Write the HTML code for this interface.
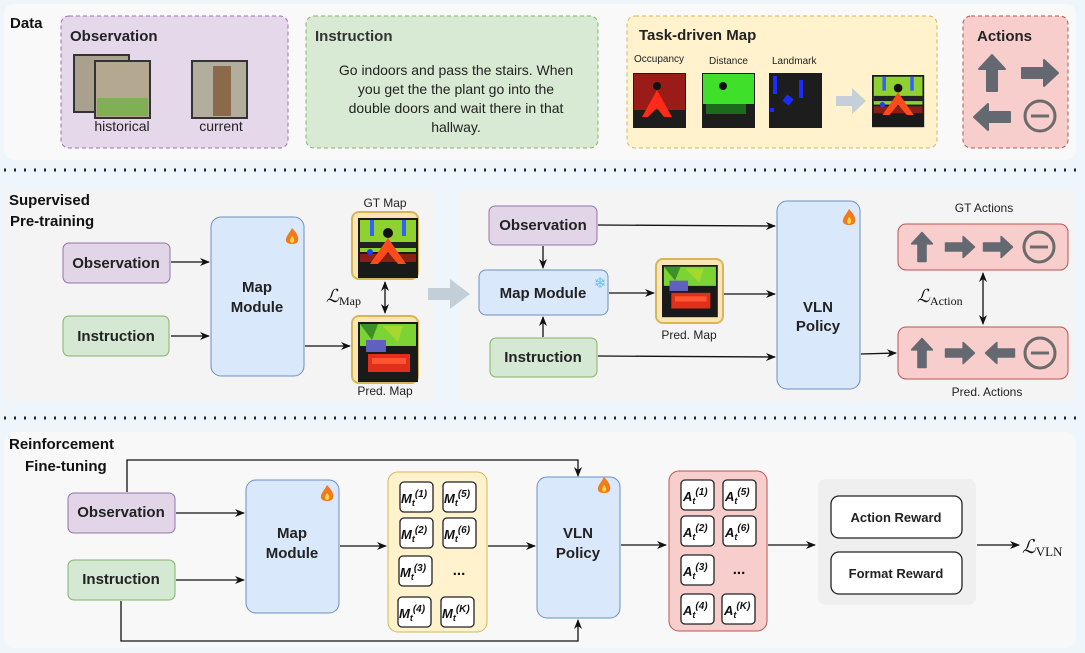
<!DOCTYPE html>
<html><head><meta charset="utf-8"><style>
html,body{margin:0;padding:0;background:#eef6fb}
svg{display:block;font-family:"Liberation Sans",Arial,sans-serif}
</style></head><body>
<svg width="1085" height="653" viewBox="0 0 1085 653" xmlns="http://www.w3.org/2000/svg">
<defs>
<marker id="ar" markerWidth="10" markerHeight="10" refX="9" refY="5" orient="auto" markerUnits="userSpaceOnUse"><path d="M0,1 L10,5 L0,9 L3,5 Z" fill="#111"/></marker>
<marker id="as" markerWidth="10" markerHeight="10" refX="1" refY="5" orient="auto" markerUnits="userSpaceOnUse"><path d="M10,1 L0,5 L10,9 L7,5 Z" fill="#111"/></marker>
<path id="up" d="M0,-18 L13,-4 L5,-4 L5,18 L-5,18 L-5,-4 L-13,-4 Z" fill="#646871" stroke="#646871" stroke-width="2" stroke-linejoin="round"/>
<g id="stop"><circle r="15" fill="none" stroke="#6b6b6b" stroke-width="3"/><line x1="-9" y1="0" x2="9" y2="0" stroke="#6b6b6b" stroke-width="3"/></g>
<g id="fire"><path d="M0,-9 C5,-4 7,0 6,4 C5,8 -5,8 -6,4 C-7,0 -3,-3 0,-9 Z" fill="#f07b1c"/><path d="M0,-1 C3,2 3,5 0,6 C-3,5 -2,2 0,-1Z" fill="#ffd84a"/></g>
<g id="predmap"><rect width="60" height="60" fill="#1a1a1a"/><rect x="2" y="2" width="56" height="22" fill="#7bd433"/><path d="M2,2 L20,2 L14,18 Z" fill="#3d8f2a"/><path d="M25,4 L45,4 L40,20Z" fill="#a6d82e"/><rect x="8" y="18" width="20" height="12" fill="#6060c0"/><rect x="10" y="32" width="42" height="18" fill="#e0301c"/><rect x="14" y="36" width="34" height="6" fill="#ff5530"/></g>
<g id="gtmap"><rect width="60" height="60" fill="#1a1a1a"/><rect x="2" y="2" width="56" height="32" fill="#8fd230"/><circle cx="30" cy="15" r="5" fill="#111"/><rect x="12" y="2" width="4" height="16" fill="#3060ff"/><rect x="44" y="2" width="4" height="16" fill="#3060ff"/><rect x="2" y="24" width="56" height="6" fill="#222"/><rect x="2" y="36" width="56" height="8" fill="#8a1f16"/><path d="M30,20 L48,46 L40,46 L30,34 L20,46 L12,46 Z" fill="#ff4a1c"/><circle cx="12" cy="34" r="3" fill="#2040ff"/></g>
</defs>

<!-- panels -->
<rect x="4" y="4" width="1072" height="156" rx="10" fill="#f9f9f9"/>
<line x1="4" y1="170" x2="1076" y2="170" stroke="#222" stroke-width="3" stroke-dasharray="2,8"/>
<rect x="4" y="190" width="432" height="212" rx="10" fill="#f4f4f4"/>
<rect x="459" y="190" width="617" height="212" rx="10" fill="#f4f4f4"/>
<line x1="4" y1="418" x2="1076" y2="418" stroke="#222" stroke-width="3" stroke-dasharray="2,8"/>
<rect x="4" y="432" width="1072" height="216" rx="10" fill="#f8f8f8"/>

<!-- DATA -->
<text x="10" y="28" font-size="15" font-weight="bold" fill="#111">Data</text>
<rect x="61" y="16" width="227" height="132" rx="8" fill="#e4d8ea" stroke="#9a72ac" stroke-dasharray="4,3"/>
<text x="70" y="41" font-size="15" font-weight="bold" fill="#222">Observation</text>
<rect x="74" y="55" width="55" height="57" fill="#a9a08e" stroke="#333" stroke-width="2"/>
<rect x="95" y="61" width="55" height="57" fill="#b5a890" stroke="#333" stroke-width="2"/>
<rect x="97" y="98" width="51" height="18" fill="#7fb055"/>
<rect x="192" y="61" width="55" height="57" fill="#b3ad9e" stroke="#333" stroke-width="2"/>
<rect x="213" y="66" width="18" height="50" fill="#8a6a4a"/>
<text x="122" y="131" font-size="14" text-anchor="middle" fill="#222">historical</text>
<text x="221" y="131" font-size="14" text-anchor="middle" fill="#222">current</text>

<rect x="306" y="16" width="292" height="132" rx="8" fill="#d9ead4" stroke="#82b366" stroke-dasharray="4,3"/>
<text x="315" y="41" font-size="15" font-weight="bold" fill="#333">Instruction</text>
<g font-size="14" text-anchor="middle" fill="#222">
<text x="456" y="75">Go indoors and pass the stairs. When</text>
<text x="456" y="94">you get the the plant go into the</text>
<text x="456" y="113">double doors and wait there in that</text>
<text x="456" y="132">hallway.</text></g>

<rect x="627" y="16" width="310" height="132" rx="8" fill="#fff2cc" stroke="#d6b656" stroke-dasharray="4,3"/>
<text x="639" y="40" font-size="15" font-weight="bold" fill="#222">Task-driven Map</text>
<g font-size="10" fill="#222"><text x="634" y="62">Occupancy</text><text x="709" y="64">Distance</text><text x="772" y="64">Landmark</text></g>
<rect x="633" y="73" width="53" height="55" fill="#1d1d1d"/><rect x="634" y="74" width="51" height="36" fill="#9a1c18"/><circle cx="657" cy="86" r="4" fill="#111"/><path d="M657,90 L672,117 L664,117 L657,108 L648,117 L642,117Z" fill="#ff2a1a"/>
<rect x="702" y="73" width="53" height="55" fill="#1d1d1d"/><rect x="703" y="74" width="51" height="30" fill="#3ee02a"/><rect x="706" y="104" width="40" height="10" fill="#1c6a1c"/><circle cx="723" cy="86" r="4" fill="#111"/>
<rect x="769" y="73" width="53" height="55" fill="#1d1d1d"/><rect x="773" y="76" width="4" height="18" fill="#1a2cff"/><rect x="799" y="80" width="4" height="18" fill="#1a2cff"/><rect x="784" y="96" width="8" height="8" fill="#1a2cff" transform="rotate(40 788 100)"/><rect x="770" y="108" width="4" height="4" fill="#1a2cff"/>
<path d="M836,96 L852,96 L852,88 L866,101 L852,114 L852,106 L836,106Z" fill="#c5cfd8"/>
<use href="#gtmap" transform="translate(872,75) scale(0.87)"/>

<rect x="963" y="16" width="105" height="132" rx="8" fill="#f8cecc" stroke="#b85450" stroke-dasharray="4,3"/>
<text x="977" y="41" font-size="15" font-weight="bold" fill="#222">Actions</text>
<use href="#up" transform="translate(992,73)"/>
<use href="#up" transform="translate(1040,73) rotate(90)"/>
<use href="#up" transform="translate(992,117) rotate(-90)"/>
<use href="#stop" transform="translate(1040,116)"/>

<!-- SUPERVISED -->
<g font-size="15" font-weight="bold" fill="#111"><text x="9" y="205">Supervised</text><text x="10" y="226">Pre-training</text></g>
<rect x="63" y="243" width="107" height="40" rx="6" fill="#e1d5e7" stroke="#9673a6"/>
<text x="116" y="268" font-size="15" font-weight="bold" text-anchor="middle" fill="#222">Observation</text>
<rect x="63" y="316" width="106" height="40" rx="6" fill="#d5e8d4" stroke="#82b366"/>
<text x="116" y="341" font-size="15" font-weight="bold" text-anchor="middle" fill="#222">Instruction</text>
<rect x="211" y="217" width="93" height="159" rx="10" fill="#dae8fc" stroke="#6c8ebf"/>
<text x="257" y="292" font-size="15" font-weight="bold" text-anchor="middle" fill="#222">Map</text>
<text x="257" y="312" font-size="15" font-weight="bold" text-anchor="middle" fill="#222">Module</text>
<use href="#fire" transform="translate(292,237)"/>
<line x1="171" y1="262" x2="209" y2="262" stroke="#111" stroke-width="1.3" marker-end="url(#ar)"/>
<line x1="171" y1="336" x2="209" y2="336" stroke="#111" stroke-width="1.3" marker-end="url(#ar)"/>
<line x1="305" y1="346" x2="350" y2="346" stroke="#111" stroke-width="1.3" marker-end="url(#ar)"/>
<text x="385" y="207" font-size="12" text-anchor="middle" fill="#222">GT Map</text>
<rect x="352" y="212" width="66" height="67" rx="7" fill="#fbe5b4" stroke="#d6b656" stroke-width="2"/>
<use href="#gtmap" transform="translate(358,218)"/>
<rect x="352" y="316" width="66" height="67" rx="7" fill="#fbe5b4" stroke="#d6b656" stroke-width="2"/>
<use href="#predmap" transform="translate(358,322)"/>
<text x="385" y="395" font-size="12" text-anchor="middle" fill="#222">Pred. Map</text>
<line x1="385" y1="282" x2="385" y2="313" stroke="#111" stroke-width="1.3" marker-end="url(#ar)" marker-start="url(#as)"/>
<text x="326" y="302" font-size="18" font-family="Liberation Serif" font-style="italic" fill="#111">ℒ<tspan font-size="12" font-style="normal" dy="3">Map</tspan></text>
<path d="M428,288 L450,288 L450,279 L470,294 L450,309 L450,300 L428,300Z" fill="#c2ced8"/>

<rect x="489" y="206" width="108" height="39" rx="6" fill="#e1d5e7" stroke="#9673a6"/>
<text x="543" y="230" font-size="15" font-weight="bold" text-anchor="middle" fill="#222">Observation</text>
<rect x="479" y="270" width="129" height="45" rx="7" fill="#dae8fc" stroke="#6c8ebf"/>
<text x="543" y="298" font-size="15" font-weight="bold" text-anchor="middle" fill="#222">Map Module</text>
<text x="600" y="288" font-size="15" text-anchor="middle" fill="#6cc0ee">❄</text>
<rect x="490" y="338" width="107" height="39" rx="6" fill="#d5e8d4" stroke="#82b366"/>
<text x="543" y="362" font-size="15" font-weight="bold" text-anchor="middle" fill="#222">Instruction</text>
<line x1="543" y1="246" x2="543" y2="268" stroke="#111" stroke-width="1.3" marker-end="url(#ar)"/>
<line x1="543" y1="337" x2="543" y2="317" stroke="#111" stroke-width="1.3" marker-end="url(#ar)"/>
<rect x="656" y="259" width="67" height="64" rx="7" fill="#fbe5b4" stroke="#d6b656" stroke-width="2"/>
<use href="#predmap" transform="translate(662,265) scale(0.93,0.87)"/>
<text x="689" y="339" font-size="12" text-anchor="middle" fill="#222">Pred. Map</text>
<line x1="609" y1="293" x2="654" y2="293" stroke="#111" stroke-width="1.3" marker-end="url(#ar)"/>
<line x1="598" y1="225" x2="775" y2="226" stroke="#111" stroke-width="1.3" marker-end="url(#ar)"/>
<line x1="724" y1="294" x2="775" y2="294" stroke="#111" stroke-width="1.3" marker-end="url(#ar)"/>
<line x1="598" y1="356" x2="775" y2="357" stroke="#111" stroke-width="1.3" marker-end="url(#ar)"/>
<rect x="777" y="201" width="83" height="188" rx="10" fill="#dae8fc" stroke="#6c8ebf"/>
<text x="818" y="312" font-size="15" font-weight="bold" text-anchor="middle" fill="#222">VLN</text>
<text x="818" y="331" font-size="15" font-weight="bold" text-anchor="middle" fill="#222">Policy</text>
<use href="#fire" transform="translate(849,218)"/>
<line x1="861" y1="354" x2="896" y2="353" stroke="#111" stroke-width="1.3" marker-end="url(#ar)"/>
<text x="984" y="212" font-size="12" text-anchor="middle" fill="#222">GT Actions</text>
<rect x="898" y="224" width="170" height="46" rx="8" fill="#f8cecc" stroke="#b85450"/>
<g transform="translate(922,247) scale(0.8)"><use href="#up"/></g>
<g transform="translate(960,247) scale(0.8) rotate(90)"><use href="#up"/></g>
<g transform="translate(998,247) scale(0.8) rotate(90)"><use href="#up"/></g>
<g transform="translate(1039,247)"><use href="#stop"/></g>
<rect x="898" y="327" width="170" height="52" rx="8" fill="#f8cecc" stroke="#b85450"/>
<g transform="translate(922,353) scale(0.8)"><use href="#up"/></g>
<g transform="translate(960,353) scale(0.8) rotate(90)"><use href="#up"/></g>
<g transform="translate(1000,353) scale(0.8) rotate(-90)"><use href="#up"/></g>
<g transform="translate(1040,353)"><use href="#stop"/></g>
<text x="987" y="396" font-size="12" text-anchor="middle" fill="#222">Pred. Actions</text>
<line x1="983" y1="273" x2="983" y2="324" stroke="#111" stroke-width="1.3" marker-end="url(#ar)" marker-start="url(#as)"/>
<text x="917" y="302" font-size="18" font-family="Liberation Serif" font-style="italic" fill="#111">ℒ<tspan font-size="12" font-style="normal" dy="3">Action</tspan></text>

<!-- RL -->
<g font-size="15" font-weight="bold" fill="#111"><text x="9" y="449">Reinforcement</text><text x="25" y="471">Fine-tuning</text></g>
<rect x="68" y="493" width="107" height="40" rx="6" fill="#e1d5e7" stroke="#9673a6"/>
<text x="121" y="517" font-size="15" font-weight="bold" text-anchor="middle" fill="#222">Observation</text>
<rect x="68" y="560" width="107" height="40" rx="6" fill="#d5e8d4" stroke="#82b366"/>
<text x="121" y="584" font-size="15" font-weight="bold" text-anchor="middle" fill="#222">Instruction</text>
<rect x="246" y="480" width="93" height="133" rx="10" fill="#dae8fc" stroke="#6c8ebf"/>
<text x="292" y="538" font-size="15" font-weight="bold" text-anchor="middle" fill="#222">Map</text>
<text x="292" y="558" font-size="15" font-weight="bold" text-anchor="middle" fill="#222">Module</text>
<use href="#fire" transform="translate(327,494)"/>
<line x1="176" y1="513" x2="244" y2="513" stroke="#111" stroke-width="1.3" marker-end="url(#ar)"/>
<line x1="176" y1="580" x2="244" y2="580" stroke="#111" stroke-width="1.3" marker-end="url(#ar)"/>
<polyline points="127,492 127,460 578,460 578,476" fill="none" stroke="#111" stroke-width="1.3" marker-end="url(#ar)"/>
<polyline points="121,601 121,641 578,641 578,620" fill="none" stroke="#111" stroke-width="1.3" marker-end="url(#ar)"/>
<line x1="340" y1="546" x2="386" y2="546" stroke="#111" stroke-width="1.3" marker-end="url(#ar)"/>

<rect x="388" y="472" width="99" height="160" rx="10" fill="#fff2cc" stroke="#d6b656"/>
<g fill="#fff" stroke="#222" stroke-width="1.3">
<rect x="400" y="482" width="33" height="30" rx="4"/><rect x="443" y="482" width="33" height="30" rx="4"/>
<rect x="400" y="518" width="33" height="30" rx="4"/><rect x="443" y="518" width="33" height="30" rx="4"/>
<rect x="399" y="556" width="33" height="30" rx="4"/>
<rect x="398" y="597" width="33" height="30" rx="4"/><rect x="441" y="597" width="33" height="30" rx="4"/></g>
<g font-size="13" font-weight="bold" font-style="italic" fill="#111">
<text x="401" y="503">M<tspan font-size="9" dy="3">t</tspan><tspan font-size="10" dy="-9">(1)</tspan></text>
<text x="444" y="503">M<tspan font-size="9" dy="3">t</tspan><tspan font-size="10" dy="-9">(5)</tspan></text>
<text x="401" y="539">M<tspan font-size="9" dy="3">t</tspan><tspan font-size="10" dy="-9">(2)</tspan></text>
<text x="444" y="539">M<tspan font-size="9" dy="3">t</tspan><tspan font-size="10" dy="-9">(6)</tspan></text>
<text x="400" y="577">M<tspan font-size="9" dy="3">t</tspan><tspan font-size="10" dy="-9">(3)</tspan></text>
<text x="399" y="618">M<tspan font-size="9" dy="3">t</tspan><tspan font-size="10" dy="-9">(4)</tspan></text>
<text x="442" y="618">M<tspan font-size="9" dy="3">t</tspan><tspan font-size="10" dy="-9">(K)</tspan></text>
</g>
<text x="459" y="575" font-size="15" font-weight="bold" text-anchor="middle" fill="#111">...</text>
<line x1="488" y1="546" x2="535" y2="546" stroke="#111" stroke-width="1.3" marker-end="url(#ar)"/>
<rect x="537" y="477" width="83" height="141" rx="10" fill="#dae8fc" stroke="#6c8ebf"/>
<text x="578" y="538" font-size="15" font-weight="bold" text-anchor="middle" fill="#222">VLN</text>
<text x="578" y="558" font-size="15" font-weight="bold" text-anchor="middle" fill="#222">Policy</text>
<use href="#fire" transform="translate(604,486)"/>
<line x1="621" y1="545" x2="666" y2="545" stroke="#111" stroke-width="1.3" marker-end="url(#ar)"/>

<rect x="669" y="471" width="98" height="160" rx="10" fill="#f8cecc" stroke="#b85450"/>
<g fill="#fff" stroke="#222" stroke-width="1.3">
<rect x="681" y="480" width="33" height="30" rx="4"/><rect x="723" y="480" width="33" height="30" rx="4"/>
<rect x="681" y="516" width="33" height="30" rx="4"/><rect x="723" y="516" width="33" height="30" rx="4"/>
<rect x="681" y="555" width="33" height="30" rx="4"/>
<rect x="681" y="594" width="33" height="30" rx="4"/><rect x="722" y="594" width="33" height="30" rx="4"/></g>
<g font-size="13" font-weight="bold" font-style="italic" fill="#111">
<text x="683" y="501">A<tspan font-size="9" dy="3">t</tspan><tspan font-size="10" dy="-9">(1)</tspan></text>
<text x="725" y="501">A<tspan font-size="9" dy="3">t</tspan><tspan font-size="10" dy="-9">(5)</tspan></text>
<text x="683" y="537">A<tspan font-size="9" dy="3">t</tspan><tspan font-size="10" dy="-9">(2)</tspan></text>
<text x="725" y="537">A<tspan font-size="9" dy="3">t</tspan><tspan font-size="10" dy="-9">(6)</tspan></text>
<text x="683" y="576">A<tspan font-size="9" dy="3">t</tspan><tspan font-size="10" dy="-9">(3)</tspan></text>
<text x="683" y="615">A<tspan font-size="9" dy="3">t</tspan><tspan font-size="10" dy="-9">(4)</tspan></text>
<text x="724" y="615">A<tspan font-size="9" dy="3">t</tspan><tspan font-size="10" dy="-9">(K)</tspan></text>
</g>
<text x="739" y="574" font-size="15" font-weight="bold" text-anchor="middle" fill="#111">...</text>
<line x1="768" y1="545" x2="815" y2="545" stroke="#111" stroke-width="1.3" marker-end="url(#ar)"/>

<rect x="818" y="479" width="158" height="126" rx="8" fill="#efefef"/>
<rect x="831" y="496" width="131" height="42" rx="8" fill="#fff" stroke="#222" stroke-width="1.3"/>
<text x="896" y="522" font-size="13" font-weight="bold" text-anchor="middle" fill="#222">Action Reward</text>
<rect x="831" y="552" width="131" height="42" rx="8" fill="#fff" stroke="#222" stroke-width="1.3"/>
<text x="896" y="578" font-size="13" font-weight="bold" text-anchor="middle" fill="#222">Format Reward</text>
<line x1="977" y1="545" x2="1019" y2="545" stroke="#111" stroke-width="1.3" marker-end="url(#ar)"/>
<text x="1022" y="553" font-size="19" font-family="Liberation Serif" font-style="italic" fill="#111">ℒ<tspan font-size="13" font-style="normal" dy="3">VLN</tspan></text>
</svg>
</body></html>
